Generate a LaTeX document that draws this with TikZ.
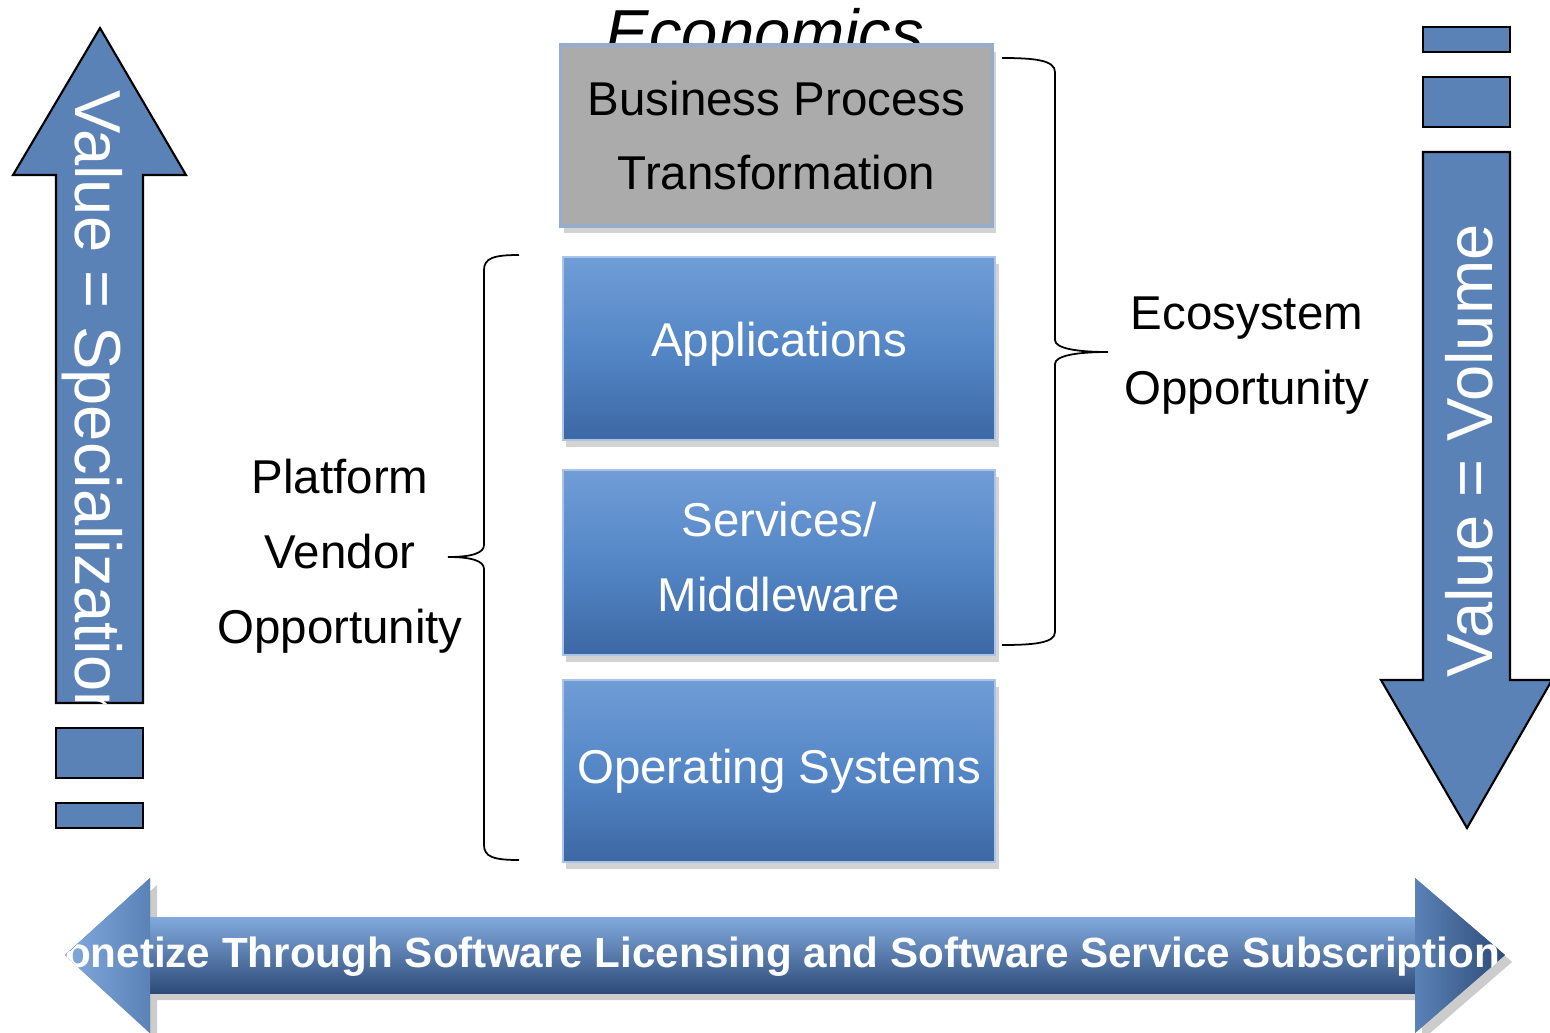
\documentclass[tikz,border=0pt]{standalone}
\usepackage{fontspec}
\setmainfont{Liberation Sans}
\usetikzlibrary{shadows}
\definecolor{arrowblue}{RGB}{91,130,182}
\definecolor{arrowlight}{RGB}{130,170,222}
\definecolor{arrowdark}{RGB}{45,75,120}
\definecolor{boxtop}{RGB}{112,157,214}
\definecolor{boxmid}{RGB}{84,134,198}
\definecolor{boxbot}{RGB}{60,104,164}
\definecolor{boxgray}{RGB}{171,171,171}
\definecolor{grayrim}{RGB}{150,172,205}
\tikzset{
  layerbase/.style={minimum width=4.32cm,inner sep=0pt,align=center,
    font=\fontsize{13.5}{21.3}\selectfont,
    drop shadow={shadow xshift=1pt,shadow yshift=-2pt,opacity=0.35}},
  layer/.style={layerbase,text=white,
    top color=boxtop,bottom color=boxbot,middle color=boxmid,
    draw=boxtop!60!white,line width=0.5pt},
  graylayer/.style={layerbase,text=black,fill=boxgray,draw=grayrim,line width=1pt},
  sidetext/.style={align=center,inner sep=0pt,font=\fontsize{13.5}{21.3}\selectfont},
  arrowshape/.style={fill=arrowblue,draw=black,line width=0.6pt},
  vtext/.style={inner sep=0pt,text=white,font=\fontsize{18.5}{20}\selectfont},
  brace/.style={draw=black,line width=0.5pt}
}
\begin{document}
\begin{tikzpicture}[x=0.01cm,y=-0.01cm]
\useasboundingbox (0,0) rectangle (1550,1033);
% title, partly under the top layer
\node[anchor=base,inner sep=0pt,font=\fontsize{18.5}{22}\selectfont\itshape] (economics) at (765,55) {Economics};
% the stack
\node[graylayer,minimum height=1.81cm] (bpt) at (776.5,135.5) {Business Process\\Transformation};
\node[layer,minimum height=1.83cm,text depth=0.18cm] (apps) at (779,348.5) {Applications};
\node[layer,minimum height=1.85cm,text depth=0.12cm] (mid) at (779,562.5) {Services/\\Middleware};
\node[layer,minimum height=1.82cm] (os) at (779,771) {Operating Systems};
% braces
\draw[brace] (519,255) .. controls (494,255) and (484,258) .. (484,270) -- (484,545)
  .. controls (484,553) and (472,557) .. (448,557) .. controls (472,557) and (484,561) .. (484,569)
  -- (484,845) .. controls (484,857) and (494,860) .. (519,860);
\draw[brace] (1002,58) .. controls (1034,58) and (1055,60) .. (1055,72) -- (1055,340)
  .. controls (1055,348) and (1075,352) .. (1108,352) .. controls (1075,352) and (1055,356) .. (1055,364)
  -- (1055,632) .. controls (1055,643) and (1034,645) .. (1002,645);
\node[sidetext] (platform) at (340,556) {Platform\\Vendor\\Opportunity};
\node[sidetext] (ecosystem) at (1247,356) {Ecosystem\\Opportunity};
% left arrow
\draw[arrowshape] (56,703) -- (56,175) -- (13,175) -- (100,28) -- (186,175) -- (143,175) -- (143,703) -- cycle;
\begin{scope}
\clip (56,703) -- (56,175) -- (13,175) -- (100,28) -- (186,175) -- (143,175) -- (143,703) -- cycle;
\node[vtext,rotate=-90,anchor=base west] (valspec) at (75,90) {Value = Specialization};
\end{scope}
\foreach \y/\h in {728/50,803/25} {
  \draw[arrowshape] (56,\y) rectangle ++(87,\h);
}
% right arrow
\draw[arrowshape] (1423,152) -- (1510,152) -- (1510,680) -- (1552,680) -- (1467,828) -- (1381,680) -- (1423,680) -- cycle;
\node[vtext,rotate=90,anchor=base west] (valvol) at (1492,678) {Value = Volume};
\foreach \y/\h in {27/25,77/50} {
  \draw[arrowshape] (1423,\y) rectangle ++(87,\h);
}
% bottom double arrow
\fill[arrowblue,drop shadow={shadow xshift=2pt,shadow yshift=-2pt,opacity=0.4}]
  (65,955) -- (150,878) -- (150,917) -- (1415,917) -- (1415,878) -- (1505,955)
  -- (1415,1033) -- (1415,993) -- (150,993) -- (150,1033) -- cycle;
\shade[top color=arrowlight,middle color=arrowblue,bottom color=arrowdark] (150,917) rectangle (1415,993);
\shade[left color=arrowlight,right color=arrowblue] (65,955) -- (150,878) -- (150,1033) -- cycle;
\shade[left color=arrowblue,right color=arrowdark] (1505,955) -- (1415,878) -- (1415,1033) -- cycle;
\begin{scope}
\clip (65,955) -- (150,878) -- (150,917) -- (1415,917) -- (1415,878) -- (1505,955)
  -- (1415,1033) -- (1415,993) -- (150,993) -- (150,1033) -- cycle;
\node[anchor=base,inner sep=0pt,text=white,font=\fontsize{12}{14}\selectfont\bfseries] (monetize) at (765,967)
  {Monetize Through Software Licensing and Software Service Subscription};
\end{scope}
\end{tikzpicture}
\end{document}
